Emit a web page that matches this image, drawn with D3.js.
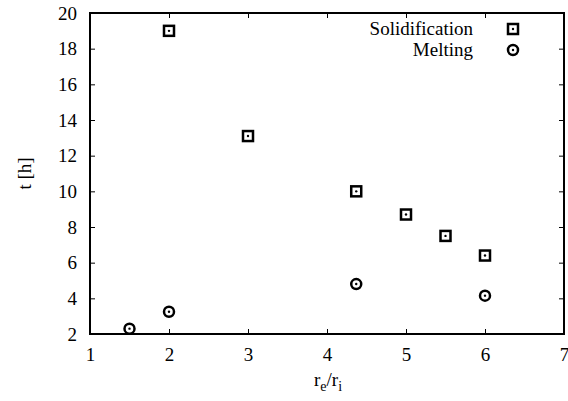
<!DOCTYPE html>
<html>
<head>
<meta charset="utf-8">
<script src="https://cdn.jsdelivr.net/npm/d3@7"></script>
<style>
  body { margin: 0; background: #fff; }
</style>
</head>
<body>
<svg id="paper" width="568" height="401"></svg>
<script>
// values
var solidX = [2, 3, 4.37, 5, 5.5, 6];
var solidT = [19, 13.1, 10, 8.7, 7.5, 6.4];
var meltX = [1.5, 2, 4.37, 6];
var meltT = [2.3, 3.25, 4.8, 4.15];
var xTicks = [1, 2, 3, 4, 5, 6, 7];
var yTicks = [2, 4, 6, 8, 10, 12, 14, 16, 18, 20];
var seriesNames = ["Solidification", "Melting"];

var svg = d3.select("#paper");
var plotLeft = 90, plotRight = 564, plotTop = 13, plotBottom = 334;

var x = d3.scaleLinear().domain([1, 7]).range([plotLeft, plotRight]);
var y = d3.scaleLinear().domain([2, 20]).range([plotBottom, plotTop]);

// axes, gnuplot style: inward ticks mirrored on all sides
var fmt = d3.format("d");
var xAxis = d3.axisBottom(x).tickValues(xTicks).tickFormat(fmt).tickSize(-5).tickPadding(14);
var yAxis = d3.axisLeft(y).tickValues(yTicks).tickFormat(fmt).tickSize(-5).tickPadding(13);

var gx = svg.append("g").attr("transform", "translate(0," + plotBottom + ")").call(xAxis);
var gy = svg.append("g").attr("transform", "translate(" + plotLeft + ",0)").call(yAxis);
var gx2 = svg.append("g").attr("transform", "translate(0," + plotTop + ")")
    .call(d3.axisTop(x).tickValues(xTicks).tickSize(-5).tickFormat(""));
var gy2 = svg.append("g").attr("transform", "translate(" + plotRight + ",0)")
    .call(d3.axisRight(y).tickValues(yTicks).tickSize(-5).tickFormat(""));

[gx, gy, gx2, gy2].forEach(function (g) {
    g.select(".domain").remove();
    g.selectAll(".tick line").attr("stroke", "#000").attr("stroke-width", 1);
    g.selectAll(".tick text").attr("fill", "#000");
});

svg.append("rect")
    .attr("x", plotLeft).attr("y", plotTop)
    .attr("width", plotRight - plotLeft).attr("height", plotBottom - plotTop)
    .attr("fill", "none").attr("stroke", "#000").attr("stroke-width", 2);

// axis labels
svg.append("text")
    .attr("transform", "translate(31," + ((plotTop + plotBottom) / 2) + ") rotate(-90)")
    .attr("text-anchor", "middle")
    .text("t [h]");

var xl = svg.append("text")
    .attr("x", 328).attr("y", 386)
    .attr("text-anchor", "middle");
xl.append("tspan").text("r");
xl.append("tspan").attr("dy", 5).attr("class", "sub").text("e");
xl.append("tspan").attr("dy", -5).text("/r");
xl.append("tspan").attr("dy", 5).attr("class", "sub").text("i");

// markers
function drawSquare(g, cx, cy) {
    g.append("rect")
        .attr("x", cx - 5).attr("y", cy - 5)
        .attr("width", 10).attr("height", 10)
        .attr("fill", "none").attr("stroke", "#000").attr("stroke-width", 2.5);
    g.append("circle").attr("cx", cx).attr("cy", cy).attr("r", 1.2).attr("fill", "#000");
}
function drawRing(g, cx, cy) {
    g.append("circle")
        .attr("cx", cx).attr("cy", cy).attr("r", 5)
        .attr("fill", "none").attr("stroke", "#000").attr("stroke-width", 2.5);
    g.append("circle").attr("cx", cx).attr("cy", cy).attr("r", 1.2).attr("fill", "#000");
}

var pts = svg.append("g");
for (var i = 0; i < solidX.length; i++) {
    drawSquare(pts, x(solidX[i]), y(solidT[i]));
}
for (var j = 0; j < meltX.length; j++) {
    drawRing(pts, x(meltX[j]), y(meltT[j]));
}

// legend
var legend = svg.append("g");
seriesNames.forEach(function (name, k) {
    var ly = 29 + k * 21;
    legend.append("text")
        .attr("x", 473).attr("y", ly + 6)
        .attr("text-anchor", "end")
        .text(name);
    if (k == 0) drawSquare(legend, 513, ly);
    else drawRing(legend, 513, ly);
});

// one serif face for every text
svg.selectAll("text")
    .style("font-family", "'Liberation Serif'")
    .style("font-size", "19px");
svg.selectAll("tspan.sub").style("font-size", "14px");
</script>
</body>
</html>
